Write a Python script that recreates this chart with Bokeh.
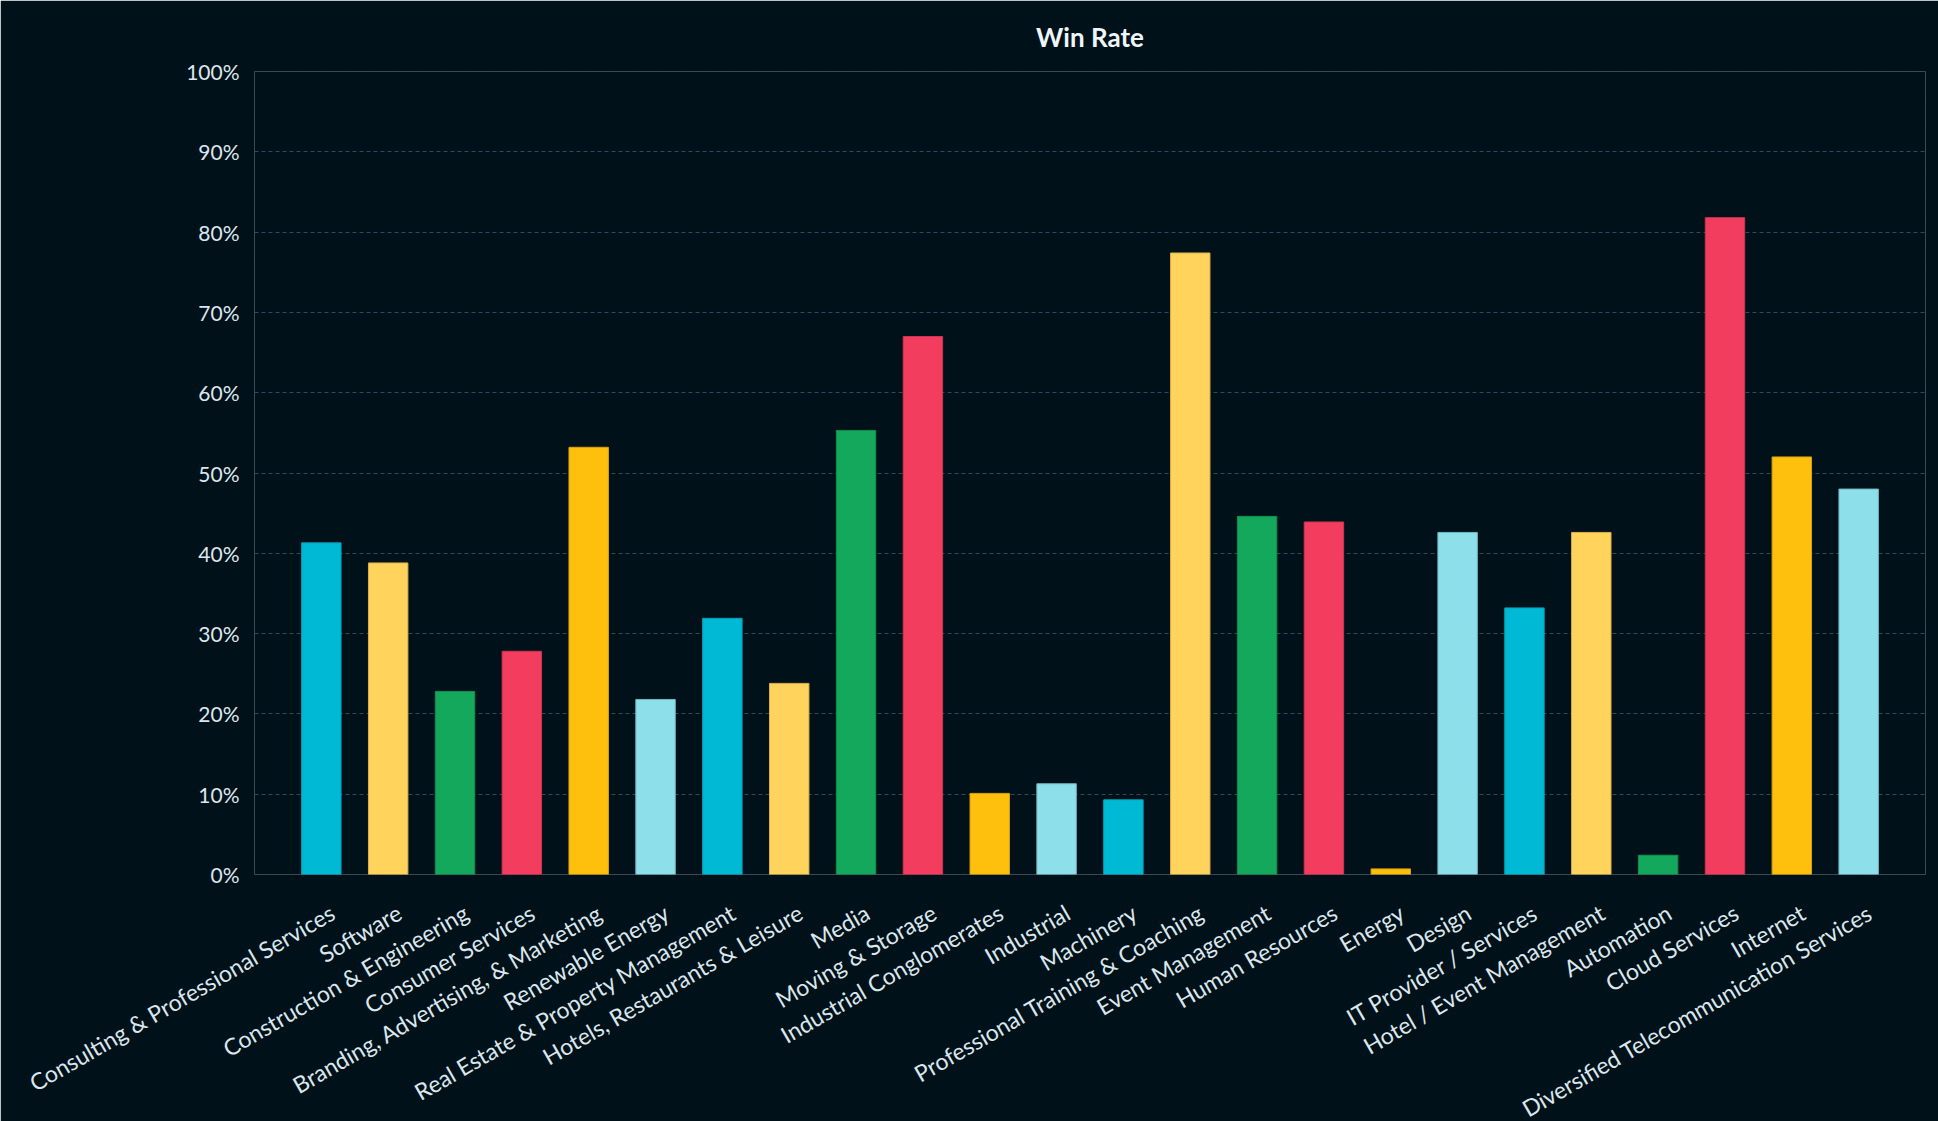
from bokeh.plotting import figure
from bokeh.models import (Range1d, FixedTicker, PrintfTickFormatter,
                          ColumnDataSource, LinearAxis)
from bokeh.embed import file_html
from bokeh.resources import INLINE
import math

industries = [
    "Consulting & Professional Services", "Software", "Construction & Engineering",
    "Consumer Services", "Branding, Advertising, & Marketing", "Renewable Energy",
    "Real Estate & Property Management", "Hotels, Restaurants & Leisure", "Media",
    "Moving & Storage", "Industrial Conglomerates", "Industrial", "Machinery",
    "Professional Training & Coaching", "Event Management", "Human Resources",
    "Energy", "Design", "IT Provider / Services", "Hotel / Event Management",
    "Automation", "Cloud Services", "Internet", "Diversified Telecommunication Services",
]
win_rate = [
    41.3, 38.8, 22.8, 27.8, 53.2, 21.8, 31.9, 23.8, 55.3, 67.0, 10.1, 11.3,
    9.3, 77.4, 44.6, 43.9, 0.7, 42.6, 33.2, 42.6, 2.4, 81.8, 52.0, 48.0,
]
palette = ["#00b9d4", "#ffd35c", "#14a85d", "#f23d5f", "#ffbf0d", "#8ddfe9"]
edge_palette = ["#0a9fb6", "#d9b04d", "#128f50", "#cc3552", "#d9a30d", "#6fb8c2"]
y_ticks = list(range(0, 101, 10))

BG = "#01111a"
GRID = "#2f4b57"
TEXT = "#dbe7ed"

n = len(industries)
slots = list(range(n))  # one slot per industry, in order
colors = [palette[i % len(palette)] for i in slots]
edges = [edge_palette[i % len(edge_palette)] for i in slots]
source = ColumnDataSource(dict(slot=slots, industry=industries, rate=win_rate,
                               color=colors, edge=edges))

p = figure(
    width=1938, height=1121,
    frame_width=1671, frame_height=803,
    x_range=Range1d(-1, n),
    y_range=Range1d(0, 100),
    output_backend="svg", toolbar_location=None,
    background_fill_color=BG, border_fill_color=BG,
    min_border_left=254, min_border_right=13, min_border_top=71, min_border_bottom=0,
    title="Win Rate",
)

p.vbar(x="slot", top="rate", width=0.59, source=source,
       fill_color="color", line_color="edge", line_width=1)

p.title.align = "center"
p.title.text_color = "#eef6fa"
p.title.text_font = "Lato"
p.title.text_font_size = "26px"
p.title.text_font_style = "bold"
p.title.standoff = 37

p.outline_line_color = GRID
p.outline_line_dash = "2 4"
p.outline_line_width = 1

p.xgrid.grid_line_color = None
p.ygrid.grid_line_color = GRID
p.ygrid.grid_line_dash = "4 3"
p.ygrid.grid_line_width = 1

# the slot axis stays hidden; names go on a slightly shifted label axis
p.xaxis.visible = False

label_shift = 0.165  # in slot widths, nudges the rotated names to the right
p.extra_x_ranges = {"names": Range1d(-1 - label_shift, n - label_shift)}
name_axis = LinearAxis(x_range_name="names")
name_axis.ticker = FixedTicker(ticks=slots)
name_axis.major_label_overrides = {i: name for i, name in zip(slots, industries)}
name_axis.major_label_orientation = math.pi / 6
name_axis.major_label_standoff = 36
p.add_layout(name_axis, "below")

p.yaxis.ticker = FixedTicker(ticks=y_ticks)
p.yaxis.formatter = PrintfTickFormatter(format="%d%%")
p.yaxis.major_label_standoff = 15

for ax, size in ((name_axis, "23px"), (p.yaxis[0], "21px")):
    ax.axis_line_color = None
    ax.major_tick_line_color = None
    ax.minor_tick_line_color = None
    ax.major_tick_in = 0
    ax.major_tick_out = 0
    ax.major_label_text_color = TEXT
    ax.major_label_text_font = "Lato"
    ax.major_label_text_font_size = size

open("out.html", "w").write(file_html(p, INLINE))
